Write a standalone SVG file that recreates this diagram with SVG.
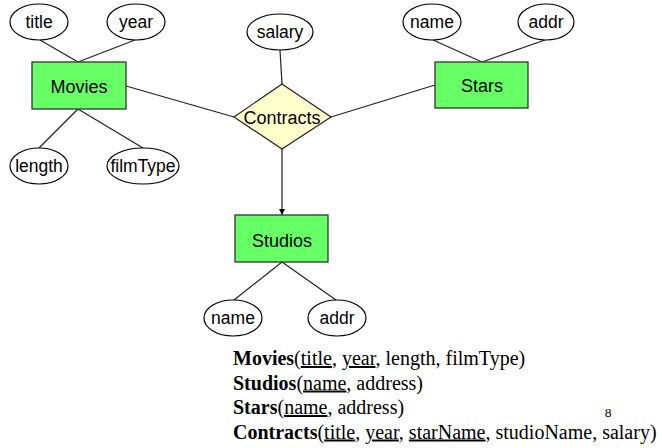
<svg xmlns="http://www.w3.org/2000/svg" width="662" height="448" viewBox="0 0 662 448">
<style>
.ent{fill:#66ff66;stroke:#333;stroke-width:1.3}
.rel{fill:#ffffcc;stroke:#222;stroke-width:1.2}
.att{fill:#fff;stroke:#000;stroke-width:1.2}
.lbl{font-family:"Liberation Sans",Arial,sans-serif;font-size:18px;fill:#000;text-anchor:middle}
.al{font-family:"Liberation Sans",Arial,sans-serif;font-size:17.5px;fill:#000;text-anchor:middle}
.con line{stroke:#222;stroke-width:1.2}
.sch{font-family:"Liberation Serif","Times New Roman",serif;font-size:20px;fill:#000}
.pg{font-family:"Liberation Serif","Times New Roman",serif;font-size:13.5px;fill:#000;text-anchor:middle}
.u{text-decoration:underline}
</style>
<defs>
<marker id="arr" viewBox="0 0 6 6" refX="6" refY="3" markerWidth="6" markerHeight="6" orient="auto" markerUnits="userSpaceOnUse">
<path d="M0,0 L6,3 L0,6 Z" fill="#000"/>
</marker>
</defs>
<rect width="662" height="448" fill="#fff"/>
<g id="connectors" class="con">
<line x1="40" y1="40" x2="78" y2="62"/>
<line x1="135" y1="40" x2="78" y2="62"/>
<line x1="78" y1="109" x2="39" y2="148"/>
<line x1="78" y1="109" x2="143" y2="148"/>
<line x1="126" y1="86" x2="234" y2="117"/>
<line x1="280" y1="50" x2="282" y2="84"/>
<line x1="331" y1="117" x2="435" y2="85"/>
<line x1="433" y1="40" x2="482" y2="62"/>
<line x1="545" y1="40" x2="482" y2="62"/>
<line x1="282" y1="149" x2="282" y2="215" marker-end="url(#arr)"/>
<line x1="282" y1="262" x2="234" y2="300"/>
<line x1="282" y1="262" x2="336" y2="300"/>
</g>
<g id="movies"><rect class="ent" x="32" y="62" width="94" height="47"/><text class="lbl" x="79" y="92.5">Movies</text></g>
<g id="stars"><rect class="ent" x="435" y="62" width="93" height="46"/><text class="lbl" x="482" y="92">Stars</text></g>
<g id="studios"><rect class="ent" x="235" y="215" width="93" height="47"/><text class="lbl" x="282" y="246.5">Studios</text></g>
<g id="contracts"><polygon class="rel" points="282,84 331,117 282,149 234,117"/><text class="lbl" x="282" y="123.5">Contracts</text></g>
<g id="movies-title"><ellipse class="att" cx="39" cy="22" rx="29" ry="18"/><text class="al" x="39" y="28">title</text></g>
<g id="movies-year"><ellipse class="att" cx="136" cy="22" rx="29" ry="18"/><text class="al" x="136" y="28">year</text></g>
<g id="movies-length"><ellipse class="att" cx="39" cy="166" rx="29" ry="18"/><text class="al" x="39" y="172">length</text></g>
<g id="movies-filmType"><ellipse class="att" cx="143" cy="166" rx="36" ry="18"/><text class="al" x="143" y="172">filmType</text></g>
<g id="contracts-salary"><ellipse class="att" cx="280" cy="32" rx="33" ry="18"/><text class="al" x="280" y="38">salary</text></g>
<g id="stars-name"><ellipse class="att" cx="432" cy="22" rx="29" ry="18"/><text class="al" x="432" y="28">name</text></g>
<g id="stars-addr"><ellipse class="att" cx="546" cy="22" rx="28" ry="18"/><text class="al" x="546" y="28">addr</text></g>
<g id="studios-name"><ellipse class="att" cx="233" cy="318" rx="29" ry="18"/><text class="al" x="233" y="324">name</text></g>
<g id="studios-addr"><ellipse class="att" cx="337" cy="318" rx="29" ry="18"/><text class="al" x="337" y="324">addr</text></g>
<g id="schema">
<text class="sch" x="233" y="365"><tspan font-weight="bold">Movies</tspan>(<tspan class="u">title</tspan>, <tspan class="u">year</tspan>, length, filmType)</text>
<text class="sch" x="233" y="389.5"><tspan font-weight="bold">Studios</tspan>(<tspan class="u">name</tspan>, address)</text>
<text class="sch" x="233" y="414"><tspan font-weight="bold">Stars</tspan>(<tspan class="u">name</tspan>, address)</text>
<text class="sch" x="233" y="438.5"><tspan font-weight="bold">Contracts</tspan>(<tspan class="u">title</tspan>, <tspan class="u">year</tspan>, <tspan class="u">starName</tspan>, studioName, salary)</text>
<text class="pg" x="608" y="416.5">8</text>
</g>
</svg>
